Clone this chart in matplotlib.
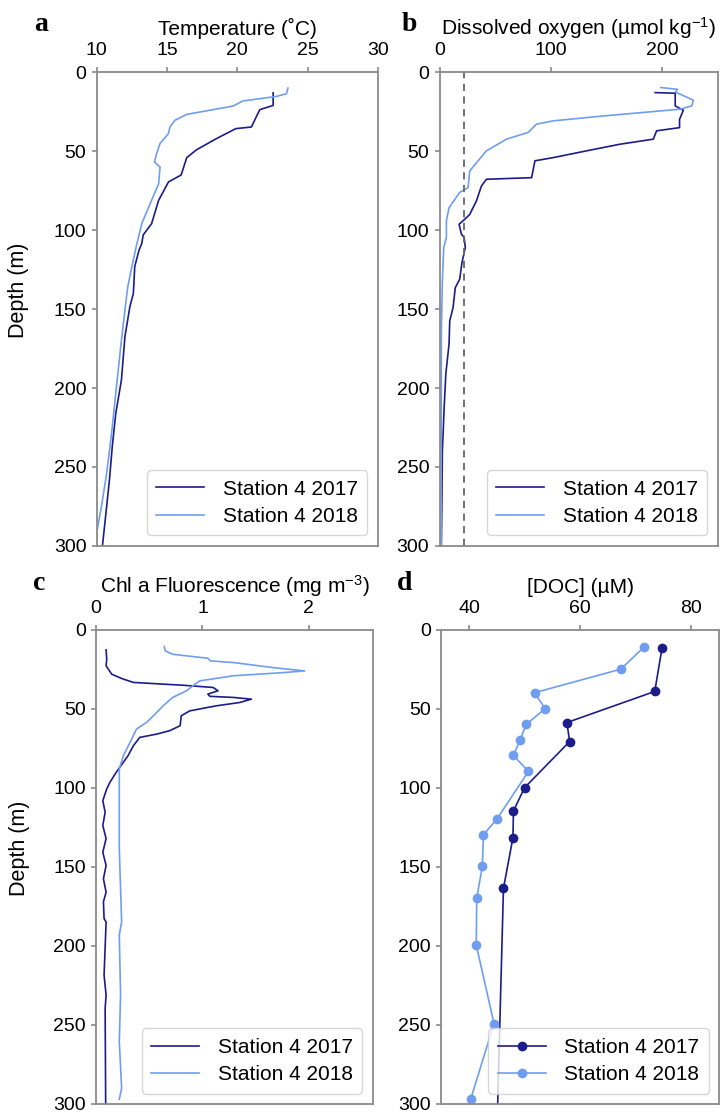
import matplotlib.pyplot as plt
import numpy as np

plt.rcParams['font.family'] = ['Liberation Sans', 'DejaVu Sans']
plt.rcParams['mathtext.fontset'] = 'custom'
plt.rcParams['mathtext.rm'] = 'Liberation Sans'
plt.rcParams['mathtext.it'] = 'Liberation Sans:italic'

# ---- panel a: temperature (deg C) vs depth (m)
temp_depth_2017 = [12.9, 20.9, 23.6, 27.2, 34.6, 35.6, 42, 49, 54, 65, 69.4, 81, 95.8, 103,
                   108.4, 112.7, 123, 140, 148.5, 167.5, 195, 216, 237, 258, 275, 300]
temp_2017 = [22.55, 22.55, 21.6, 21.4, 21.0, 19.9, 18.5, 17.1, 16.4, 16.0, 15.1, 14.4, 13.9, 13.3,
             13.2, 13.0, 12.7, 12.6, 12.35, 12.0, 11.75, 11.35, 11.1, 10.9, 10.7, 10.4]
temp_depth_2018 = [9.9, 13.5, 15.2, 18.1, 21.3, 26.6, 30.4, 34.6, 38.8, 45, 51.5, 56.8, 60, 70.5,
                   81, 89.4, 95.8, 110.5, 125, 136, 150.6, 173.9, 199, 228.7, 254, 275, 290, 300]
temp_2018 = [23.6, 23.5, 22.8, 20.4, 19.7, 16.4, 15.55, 15.2, 15.1, 14.5, 14.25, 14.1, 14.5, 14.4,
             13.9, 13.5, 13.2, 12.8, 12.45, 12.2, 12.0, 11.7, 11.4, 11.05, 10.7, 10.33, 10.02, 9.9]

# ---- panel b: dissolved oxygen (umol/kg)
oxy_depth_2017 = [12.8, 13.2, 21.2, 24, 29.7, 35, 37, 42.3, 45.5, 49.7, 54, 56, 66.7, 67.7, 72,
                  81.4, 90, 94, 96.2, 102.5, 104.7, 111, 120.5, 131, 136.4, 149, 157.5, 172,
                  191, 212.4, 240, 269.5, 300]
oxy_2017 = [193.7, 211.7, 211.7, 219, 215.6, 215.6, 195, 192, 162, 132, 102, 85.6, 82.6, 42, 37.5,
            33, 27, 21, 17.4, 19.5, 22, 23, 20, 18, 14, 12, 9, 8.4,
            5.5, 4, 2.4, 2, 1.5]
oxy_depth_2018 = [9.6, 10.7, 12.5, 17.6, 21.2, 23.3, 24.8, 27.6, 30.7, 32.8, 38, 42.3, 49.7, 56,
                  62.4, 73, 76, 85.7, 94, 104.7, 111, 132, 163, 300]
oxy_2018 = [198.8, 213.8, 212, 228, 226.7, 216, 192, 147, 102, 87, 79.6, 60, 42, 34.5,
            27, 25.5, 18, 8.4, 6, 6, 3.6, 2.4, 1.5, 1.3]
hypoxia_threshold = 22

# ---- panel c: chl a fluorescence (mg m-3)
chl_depth_2017 = [12.6, 18.5, 22.7, 28, 30.7, 33.2, 35, 36.4, 38.5, 40.6, 42, 42.7, 43.8, 45.9,
                  48, 51.2, 54.3, 60.6, 63.8, 65.9, 68, 73.3, 79.6, 90, 96.4, 100.6, 108,
                  115.4, 123.8, 132, 140.7, 149, 157.5, 166, 172, 182.7, 184.8, 218.5, 231,
                  239.6, 300]
chl_2017 = [0.094, 0.10, 0.094, 0.147, 0.24, 0.35, 0.82, 1.10, 1.146, 1.05, 1.07, 1.29, 1.46, 1.35,
            1.13, 0.88, 0.80, 0.79, 0.69, 0.57, 0.41, 0.35, 0.30, 0.19, 0.13, 0.10, 0.063,
            0.085, 0.063, 0.094, 0.063, 0.094, 0.069, 0.094, 0.069, 0.075, 0.094, 0.075, 0.094,
            0.085, 0.09]
chl_depth_2018 = [10.5, 13.2, 15.4, 17.9, 19.6, 20.6, 23.8, 25.9, 27, 29, 32.2, 34.3, 38.5, 42.7,
                  48, 52.2, 58.5, 62.7, 71, 79.6, 88, 105, 138.5, 184.8, 193, 231, 260.5, 290, 297]
chl_2018 = [0.64, 0.65, 0.72, 1.05, 1.075, 1.29, 1.66, 1.96, 1.755, 1.29, 0.975, 0.93, 0.85, 0.72,
            0.63, 0.57, 0.475, 0.38, 0.32, 0.256, 0.218, 0.218, 0.218, 0.24, 0.218, 0.23, 0.218,
            0.24, 0.218]

# ---- panel d: DOC (uM), discrete samples
doc_depth_2017 = [11.7, 38.9, 58.6, 70.6, 99.8, 114.5, 131.5, 163.5, 400]
doc_2017 = [74.7, 73.4, 57.6, 58.1, 50.0, 48.0, 47.9, 46.2, 44.4]
doc_depth_2018 = [10.7, 24.8, 39.7, 49.8, 59.7, 69.5, 79.4, 89.5, 119.8, 129.6, 149.6, 169.6,
                  199.2, 249.2, 297]
doc_2018 = [71.5, 67.3, 51.8, 53.7, 50.3, 49.2, 48.0, 50.7, 45.0, 42.6, 42.4, 41.4,
            41.3, 44.5, 40.3]

c17 = '#1c1c8a'
c18 = '#6f9ef0'
spine_c = '#8a8a8a'
W, H = 728, 1114

fig = plt.figure(figsize=(W / 100, H / 100), dpi=100)

def setup_axis(rect, xlabel, xlim, xticks, show_ylabel):
    ax = fig.add_axes(rect)
    ax.set_ylim(300, 0)
    ax.set_yticks(np.arange(0, 301, 50))
    ax.set_xlim(*xlim)
    ax.set_xticks(xticks)
    ax.xaxis.tick_top()
    ax.xaxis.set_label_position('top')
    ax.set_xlabel(xlabel, fontsize=15, labelpad=5)
    if show_ylabel:
        ax.set_ylabel('Depth (m)', fontsize=15.5)
        ax.yaxis.set_label_coords(-0.24, 0.54)
    ax.tick_params(labelsize=14, color=spine_c, length=3.5, width=1.2)
    ax.tick_params(axis='x', pad=6)
    ax.tick_params(axis='y', pad=4)
    for s in ax.spines.values():
        s.set_color(spine_c)
        s.set_linewidth(1.3)
    return ax

def add_legend(ax):
    ax.legend(loc='lower right', fontsize=15, handlelength=2.3, borderpad=0.45,
              labelspacing=0.4, handletextpad=0.9, borderaxespad=0.5)

def panel_letter(x, y, letter):
    fig.text(x / W, 1 - y / H, letter, fontsize=20, fontweight='bold',
             family='Liberation Serif', va='baseline')

ax_a = setup_axis([0.133, 0.510, 0.386, 0.425], 'Temperature (\u02daC)', (10, 30),
                  [10, 15, 20, 25, 30], True)
ax_a.plot(temp_2017, temp_depth_2017, color=c17, lw=1.2, label='Station 4 2017')
ax_a.plot(temp_2018, temp_depth_2018, color=c18, lw=1.2, label='Station 4 2018')
add_legend(ax_a)

ax_b = setup_axis([0.604, 0.510, 0.382, 0.425], 'Dissolved oxygen (\u00b5mol kg$^{-1}$)', (0, 250),
                  [0, 100, 200], False)
ax_b.plot(oxy_2017, oxy_depth_2017, color=c17, lw=1.2, label='Station 4 2017')
ax_b.plot(oxy_2018, oxy_depth_2018, color=c18, lw=1.2, label='Station 4 2018')
ax_b.axvline(hypoxia_threshold, color='#666666', ls='--', lw=1.3, dashes=(4, 3))
add_legend(ax_b)

ax_c = setup_axis([0.132, 0.009, 0.380, 0.4255], 'Chl a Fluorescence (mg m$^{-3}$)', (0, 2.6),
                  [0, 1, 2], True)
ax_c.plot(chl_2017, chl_depth_2017, color=c17, lw=1.2, label='Station 4 2017')
ax_c.plot(chl_2018, chl_depth_2018, color=c18, lw=1.2, label='Station 4 2018')
add_legend(ax_c)

ax_d = setup_axis([0.606, 0.009, 0.382, 0.4255], '[DOC] (\u00b5M)', (35, 85),
                  [40, 60, 80], False)
ax_d.plot(doc_2017, doc_depth_2017, color=c17, lw=1.2, marker='o', ms=6, label='Station 4 2017')
ax_d.plot(doc_2018, doc_depth_2018, color=c18, lw=1.2, marker='o', ms=6, label='Station 4 2018')
add_legend(ax_d)

panel_letter(34, 31, 'a')
panel_letter(402, 31, 'b')
panel_letter(33, 590, 'c')
panel_letter(397, 590, 'd')

fig.savefig('out.png', dpi=100)
